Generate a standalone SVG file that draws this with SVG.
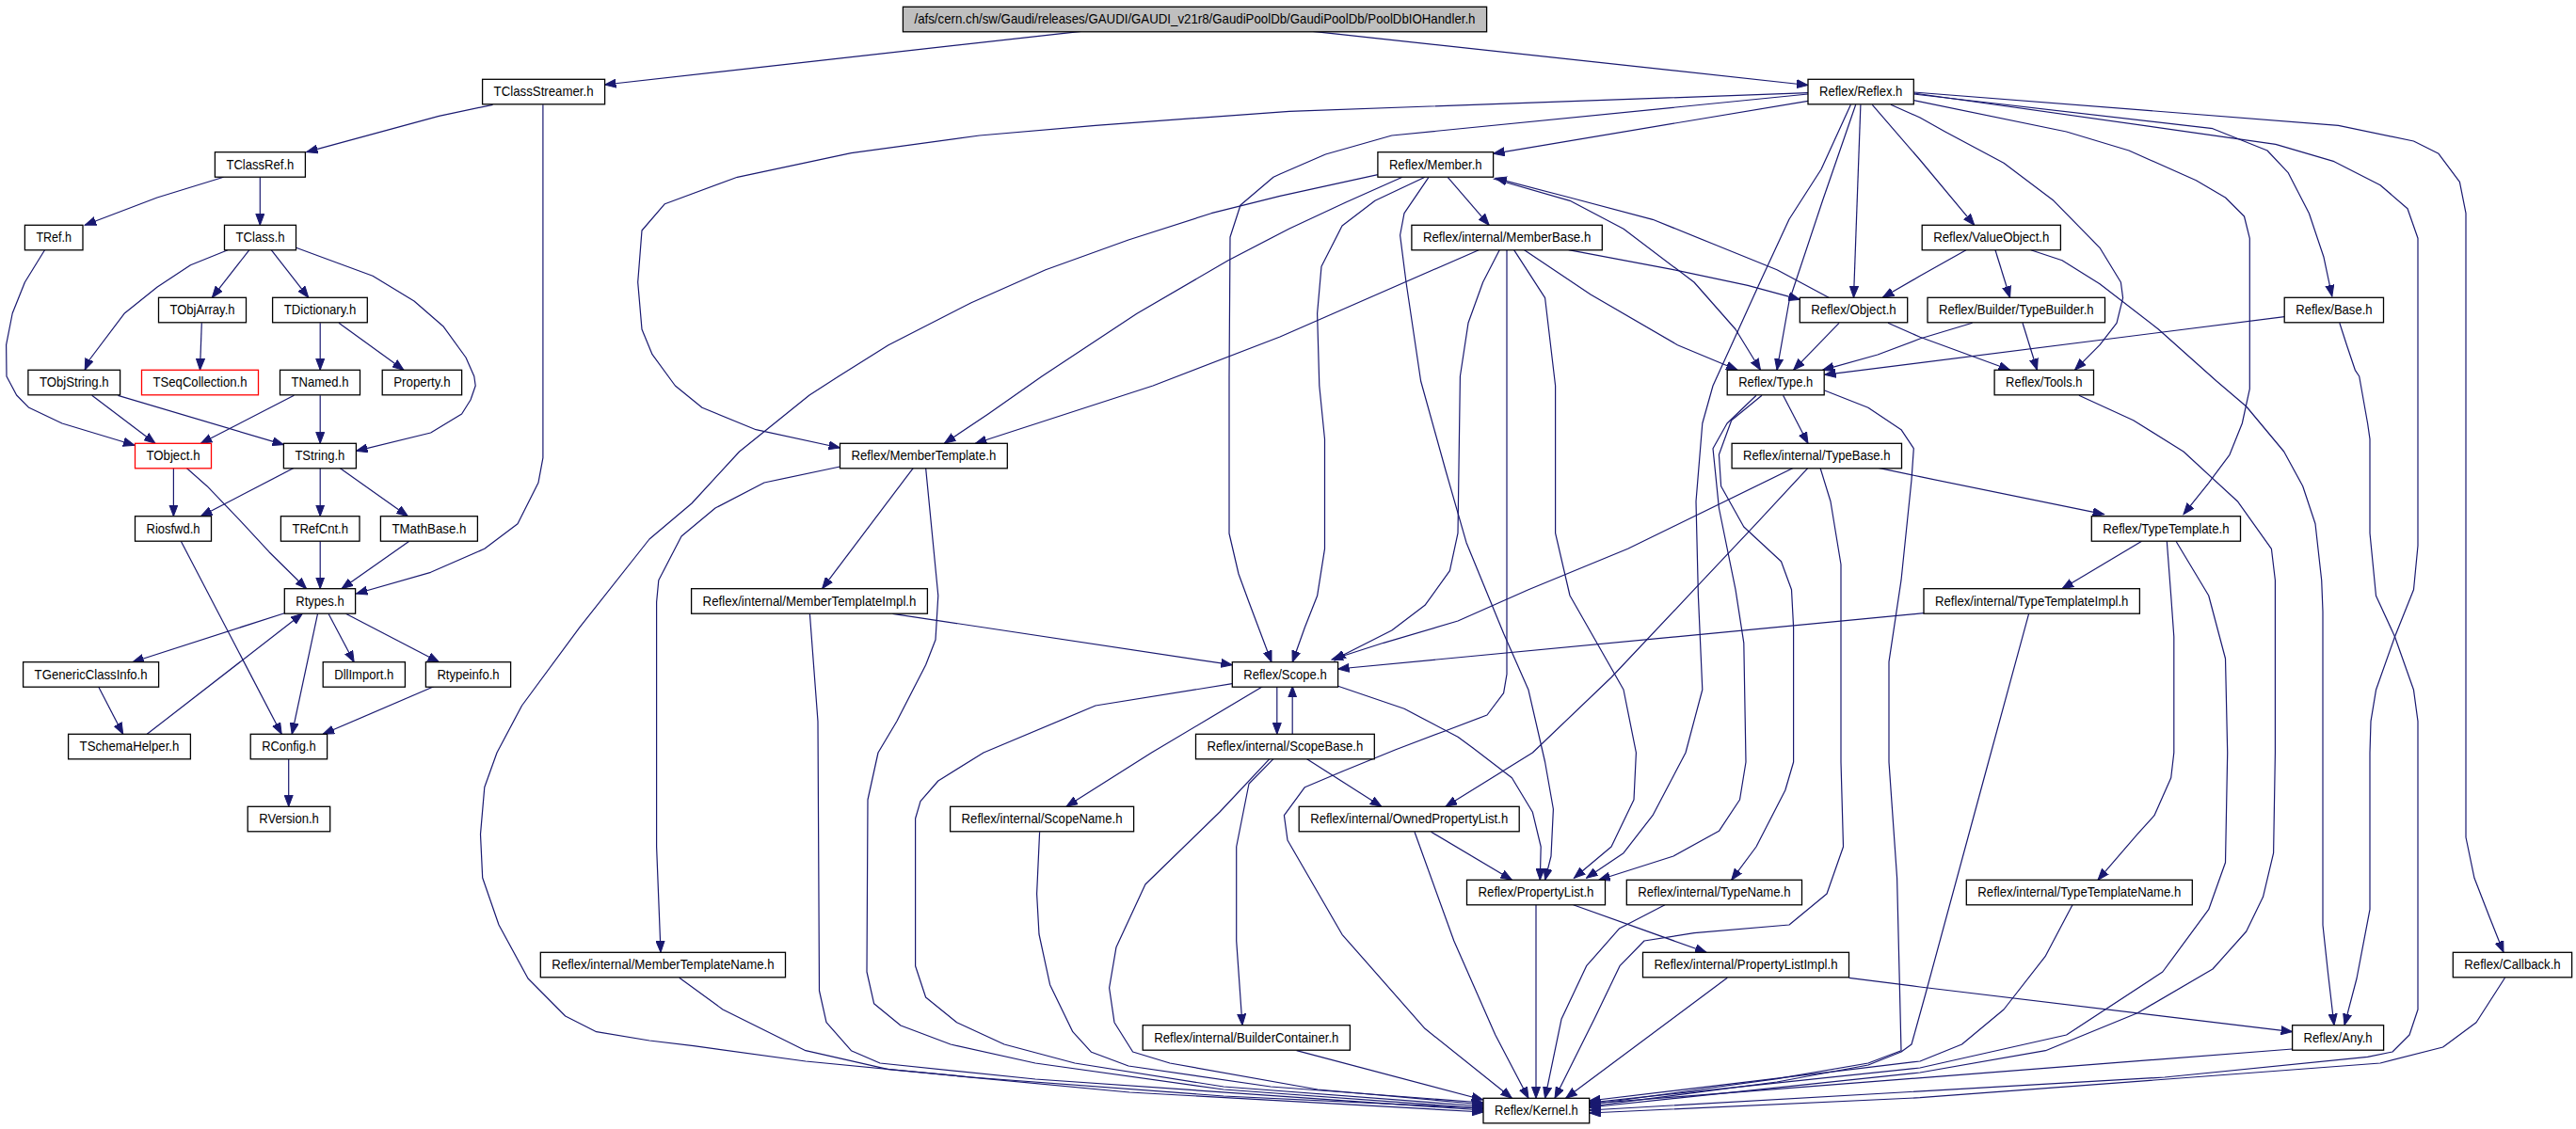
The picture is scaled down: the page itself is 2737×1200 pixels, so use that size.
<svg xmlns="http://www.w3.org/2000/svg" width="2737" height="1200" viewBox="0 0 2737 1200">
<style>
.n rect{fill:#fff;stroke:#000;stroke-width:1.3}
.r rect{stroke:#f00}
.root rect{fill:#bfbfbf}
.n text{font-family:"Liberation Sans",Arial,sans-serif;font-size:15px;fill:#000;text-anchor:middle}
.e path{fill:none;stroke:#191970;stroke-width:1.2;stroke-linejoin:round;marker-end:url(#a)}
</style>
<defs>
<marker id="a" markerWidth="13" markerHeight="10" refX="12" refY="5" orient="auto" markerUnits="userSpaceOnUse">
<path d="M0,0.5 L12,5 L0,9.5 z" fill="#191970" stroke="#191970" stroke-width="1"/>
</marker>
</defs>
<rect width="2737" height="1200" fill="#fff"/>
<g id="edges" class="e">
<path d="M1148.6,33.3 L642.5,90"/>
<path d="M1395,33.3 L1921,90.5"/>
<path d="M523.6,111.3 L466.4,123.3 L325.6,161.7"/>
<path d="M576.9,111.3 L576.9,486.7 L572,513 L550,556.7 L514.8,583.3 L457.6,608.3 L378.4,631"/>
<path d="M237.6,188.3 L167,210 L90.2,239.3"/>
<path d="M276.3,188.3 L276.3,239.3"/>
<path d="M47.5,265.7 L26.4,300 L13.2,333 L6.6,366.7 L7,400 L17.6,420 L30.8,433.3 L66,450 L143,473.3"/>
<path d="M242,265.7 L202.4,281.7 L167.2,305 L132,333.3 L94.6,383 L90.2,393.3"/>
<path d="M264.9,265.7 L225.3,316.3"/>
<path d="M288.2,265.7 L327.8,316.3"/>
<path d="M314.6,263.3 L360,280 L396,293.3 L440,320 L470.8,346.7 L495,380 L503.8,400 L505.2,410 L500,425 L490.6,440 L457.6,460 L378.4,479.3"/>
<path d="M214.3,343.3 L212.5,393.3"/>
<path d="M340.2,343.3 L340.2,393.3"/>
<path d="M360,343.3 L429,393.3"/>
<path d="M97.7,420.3 L165,471.3"/>
<path d="M125.4,420.3 L301.4,472.7"/>
<path d="M312.4,420.3 L213.4,471.3"/>
<path d="M340.2,420.3 L340.2,471.3"/>
<path d="M184.4,497.3 L184.4,548.7"/>
<path d="M198,497.3 L220,516.7 L255.2,553.3 L286,586.7 L325.6,625.7"/>
<path d="M312.4,497.3 L213.4,548.7"/>
<path d="M340.2,497.3 L340.2,548.7"/>
<path d="M360.8,497.3 L433.4,548.7"/>
<path d="M192.3,575.3 L299.2,780.3"/>
<path d="M340.2,575.3 L340.2,625.7"/>
<path d="M434.8,575.3 L363,625.7"/>
<path d="M302.3,651.7 L140.8,703.7"/>
<path d="M349,652.3 L376.2,703.7"/>
<path d="M367.4,652.3 L466.4,703.7"/>
<path d="M337.5,652.3 L310.2,780.3"/>
<path d="M104.3,729.3 L130.7,780.3"/>
<path d="M156.2,780.3 L321.2,652.3"/>
<path d="M462,729.3 L343.2,780.3"/>
<path d="M306.7,807 L306.7,857.3"/>
<path d="M1921,107.3 L1586.6,163.3"/>
<path d="M1921,98.7 L1370,118.3 L1164,133.3 L1040.8,144 L904.4,162.7 L783.4,188.3 L706.4,216.7 L682,245 L677.7,300 L682,350 L693,376.7 L717.4,410 L746,433.3 L803.2,456.7 L892.5,476"/>
<path d="M1921,100 L1478.8,144 L1408.4,164 L1360,185 L1353,188.3 L1318,218 L1307,252 L1306,400 L1306,567 L1316,610 L1327,640 L1351,703.7"/>
<path d="M1976.9,111.3 L1969.5,316.3"/>
<path d="M1971.7,111.3 L1936.5,213.3 L1901,320 L1888,393.3"/>
<path d="M1966.4,111.3 L1935,180 L1901,233 L1870,300 L1839.7,366.7 L1820,410 L1808.8,450 L1802,533 L1804.4,633 L1808.8,733 L1791,800 L1756,866.7 L1725,906.7 L1685.6,933.3"/>
<path d="M1989.3,111.3 L2040,170 L2097.8,239.3"/>
<path d="M2009,111.3 L2040,125 L2066.7,140 L2129,173.3 L2182,213.3 L2231,263.3 L2253.4,300 L2255.6,316.7 L2249,343.3 L2231,366.7 L2204.5,393.3"/>
<path d="M2033.3,106.7 L2195.6,140 L2262,160 L2333.4,191.7 L2364.5,210 L2384.5,230 L2390.3,253.3 L2390.3,413.3 L2382.3,450 L2369,483.3 L2346.7,513.3 L2320,546.7"/>
<path d="M2033.3,100 L2351,136.7 L2409,160 L2431,183.3 L2453.4,226.7 L2469,273.3 L2477.8,315"/>
<path d="M2033.3,99 L2417.8,153.3 L2480,171.7 L2529,196.7 L2558,221.7 L2569,253.3 L2569,580 L2564.5,626.7 L2544.5,676.7 L2524.5,733.3 L2519,766.7 L2518,800 L2518,966.7 L2504,1040 L2491,1089.7"/>
<path d="M2033.3,98 L2484.5,133.3 L2564.5,150 L2591,163.3 L2613.4,193.3 L2620,226.7 L2620,890 L2629,933.3 L2644.5,973.3 L2660,1012.3"/>
<path d="M1463.9,185.7 L1360,208.3 L1287,226.7 L1199,255 L1111,286.7 L1032,321.7 L944,366.7 L891,400 L860,420 L785.6,480 L735,535 L690,573 L616,666.7 L554.5,750 L528,800 L514.8,836.7 L510.5,886.7 L512.7,933 L530,983 L561,1040 L600.7,1080 L633.7,1096.7 L690,1106 L737,1111.7 L856,1128 L1032,1145 L1300,1165 L1576,1178"/>
<path d="M1490,188.3 L1430,215 L1370,243 L1305,276.7 L1208,333.3 L1107,400 L1050,440 L1003.4,471.3"/>
<path d="M1514,188.3 L1461,213.3 L1426,240 L1404,283.3 L1399.6,333.3 L1401.8,410 L1407.5,466.7 L1407.5,583.3 L1399.6,633.3 L1386.4,666.7 L1373.2,703.7"/>
<path d="M1538.2,188.3 L1582.2,239.3"/>
<path d="M1586.6,190 L1668,213.3 L1725,243.3 L1800,300 L1844,350 L1870.5,393.3"/>
<path d="M1518,188.3 L1492,226.7 L1487.6,250 L1494,300 L1509.6,405 L1536,500 L1558,576.7 L1597.6,673.3 L1624,733.3 L1641.6,810 L1650.4,860 L1648,910 L1641.6,935.3"/>
<path d="M1943,316.3 L1888,286.7 L1822,260 L1756,233.3 L1668,210 L1588.8,189.3"/>
<path d="M1954,343.3 L1905.6,393.3"/>
<path d="M2006,343.3 L2040,358.3 L2135.6,393.3"/>
<path d="M1571.2,265.7 L1360,358 L1225,410 L1036.4,471.3"/>
<path d="M1593.2,265.7 L1575.6,300 L1560,343.3 L1551.4,400 L1549,566.7 L1540.4,606.7 L1514,643.3 L1478.8,670 L1426,696.7 L1418,702"/>
<path d="M1601,265.7 L1601,716.7 L1597.6,736.7 L1580,760 L1536,776.7 L1483,796.7 L1426,820 L1386.4,836.7 L1364.4,866.7 L1368,893 L1426,993.3 L1514,1093.3 L1606.4,1167.3"/>
<path d="M1608.6,265.7 L1641.6,316.7 L1652.6,410 L1652.6,566.7 L1668,633 L1725,733 L1738.4,800 L1736,850 L1712,900 L1672.4,933.3"/>
<path d="M1619.6,265.7 L1690,313 L1782.4,366.7 L1846,393.3"/>
<path d="M1666.7,265.7 L1778,286.7 L1857,303.3 L1912.3,318.3"/>
<path d="M2089,265.7 L2040,293.3 L2000.3,316.3"/>
<path d="M2120,265.7 L2135.6,316.3"/>
<path d="M2157.8,265.7 L2191,276.7 L2231,301.7 L2293.4,350 L2355,405 L2386.7,432 L2426.7,480 L2446.7,516.7 L2460,556.7 L2466.7,616.7 L2468,650 L2468,983.3 L2473.4,1033.3 L2480,1089.7"/>
<path d="M2095.6,343.3 L2040,360 L1995,377 L1936.5,393.3"/>
<path d="M2149,343.3 L2164.5,393.3"/>
<path d="M2427.2,336.7 L1938.6,398.3"/>
<path d="M2485.8,343.3 L2493.4,366.7 L2502.3,393.3 L2506.7,400 L2515.6,450 L2518,466.7 L2518,566.7 L2524.5,633.3 L2544.5,676.7 L2564.5,733.3 L2569,766.7 L2569,1073 L2560,1100 L2542,1118 L2515.6,1123.3 L2300,1145 L1688.7,1180"/>
<path d="M1894.6,420.3 L1921,471.3"/>
<path d="M1866,420.3 L1835,450 L1820,476.7 L1826.4,540 L1844,626.7 L1852.8,683.3 L1855,810 L1848.5,850 L1826.4,883.3 L1778,910 L1698.8,935.3"/>
<path d="M1872,420.3 L1839.7,446.7 L1826.4,483.3 L1828.6,516.7 L1852.8,560 L1892.5,596.7 L1903.5,626.7 L1905.6,666.7 L1905.6,810 L1896.8,840 L1866,900 L1839.7,935.3"/>
<path d="M1938.6,415 L1984.9,433.3 L2020,456.7 L2033.3,476.7 L2031,510 L2020,616.7 L2007,703.3 L2007,810 L2015.6,933.3 L2020,1116.7 L1985,1130 L1888,1146.7 L1688.7,1174"/>
<path d="M1905.6,497.3 L1729.6,583.3 L1624,626.7 L1549,660 L1470,683.3 L1415,701"/>
<path d="M1921,497.3 L1866,556.7 L1800,626.7 L1712,720 L1628.4,800 L1580,830 L1536,857.3"/>
<path d="M1934,497.3 L1945,533 L1956,600 L1956,810 L1958.5,900 L1941,950 L1901,983 L1800,991.7 L1747,1000 L1721,1026.7 L1694,1083 L1652,1167.3"/>
<path d="M1996,497.3 L2040,506.7 L2235.6,546.7"/>
<path d="M2208.9,420.3 L2266.7,446.7 L2320,480 L2377.8,533.3 L2413.4,583.3 L2417.4,616.7 L2417.4,800 L2415.6,906.7 L2404.5,953.3 L2386.7,990 L2351,1030 L2271,1076.7 L2173.4,1116.7 L2040,1140 L1688.7,1177"/>
<path d="M2302.3,575.3 L2306.7,633.3 L2309.8,676.7 L2309.8,800 L2306.7,826.7 L2289,866.7 L2271,886.7 L2229,935.3"/>
<path d="M2312,575.3 L2346.7,633 L2364.5,700 L2366.7,800 L2364.5,916.7 L2346.7,966.7 L2297.8,1033 L2195.6,1100 L2040,1135 L1688.7,1172"/>
<path d="M2275.6,575.3 L2191,625.7"/>
<path d="M2044.3,651.7 L1421.6,711"/>
<path d="M2155.6,652.3 L2112.7,810 L2046,1056 L2031,1110 L2020,1118 L1985,1132 L1888,1150 L1688.7,1176"/>
<path d="M1356.8,729.3 L1356.8,780.3"/>
<path d="M1373.2,780.3 L1373.2,729.3"/>
<path d="M1309.3,726.7 L1164,750 L1045,800 L996.8,830 L978,851.7 L972.6,870 L972.6,1026.7 L983.6,1060 L1016.6,1086.7 L1067,1110 L1142,1130 L1300,1155 L1576,1176"/>
<path d="M1342.3,729.3 L1223.5,800 L1133,857.3"/>
<path d="M1421.6,729.3 L1492,753.3 L1549,783.3 L1565,795 L1606.4,826.7 L1628.4,863.3 L1637.2,900 L1636.3,935.3"/>
<path d="M1388.6,806.7 L1467.8,857.3"/>
<path d="M1353,806.7 L1327,833 L1313.7,900 L1313.7,1000 L1320,1089.7"/>
<path d="M1348.9,806.7 L1296,863 L1216.9,940 L1186,1006.7 L1178.6,1050 L1184,1086.7 L1203.6,1118 L1243,1130 L1400,1158 L1576,1174"/>
<path d="M970.4,497.3 L873.6,625.7"/>
<path d="M983.6,497.3 L996.8,633 L994,680 L983.6,706.7 L952.8,766.7 L933,800 L922,850 L921,1033 L928.6,1066.7 L957,1090 L1010,1110 L1100,1130 L1300,1158 L1576,1178"/>
<path d="M892.5,496 L812,513 L760,540 L724,570 L699.8,616.7 L697.6,640 L697.6,900 L702,1012.3"/>
<path d="M948.4,652.3 L1309.3,706.7"/>
<path d="M860.4,652.3 L869,766.7 L870.5,1053 L878,1086.7 L904.4,1116.7 L935,1130 L1100,1147 L1576,1180"/>
<path d="M721.8,1039.3 L768,1073 L856,1116.7 L944,1136.7 L1200,1161 L1576,1182"/>
<path d="M1104.6,884.3 L1101.6,950 L1104,993 L1115.6,1046.7 L1139.8,1096.7 L1159.6,1118.3 L1199,1133 L1350,1155 L1576,1172"/>
<path d="M1377.6,1116.7 L1575.6,1169"/>
<path d="M1520.6,884.3 L1606.4,935.3"/>
<path d="M1503,884.3 L1544.8,1000 L1588.8,1100 L1624,1167.3"/>
<path d="M1632,961.7 L1632,1167.3"/>
<path d="M1671.6,961.7 L1813,1012.3"/>
<path d="M1769,961.7 L1720.8,986.7 L1685.6,1026.7 L1659,1083.3 L1641.6,1167.3"/>
<path d="M1835.3,1039.3 L1663.6,1167.3"/>
<path d="M1964.6,1039.3 L2040,1049 L2435.6,1096.7"/>
<path d="M2435.6,1115 L1688.7,1173"/>
<path d="M2661.5,1039.3 L2631,1086.7 L2595.6,1113 L2529,1130 L2040,1166.7 L1688.7,1183"/>
<path d="M2202,961.7 L2173,1016.7 L2129,1073 L2084.5,1110 L2040,1128 L1688.7,1170"/>
</g>
<g id="root" class="n root"><rect x="959.4" y="7.3" width="620.2" height="26.5"/><text x="1269.5" y="25.3" textLength="596" lengthAdjust="spacingAndGlyphs">/afs/cern.ch/sw/Gaudi/releases/GAUDI/GAUDI_v21r8/GaudiPoolDb/GaudiPoolDb/PoolDbIOHandler.h</text></g>
<g id="TClassStreamer" class="n"><rect x="512.6" y="84.3" width="130" height="26.5"/><text x="577.6" y="102.3" textLength="106" lengthAdjust="spacingAndGlyphs">TClassStreamer.h</text></g>
<g id="TClassRef" class="n"><rect x="228.4" y="161.7" width="96" height="26.5"/><text x="276.4" y="179.7" textLength="72" lengthAdjust="spacingAndGlyphs">TClassRef.h</text></g>
<g id="TRef" class="n"><rect x="26.4" y="239.3" width="61.6" height="26.5"/><text x="57.2" y="257.3" textLength="37.6" lengthAdjust="spacingAndGlyphs">TRef.h</text></g>
<g id="TClass" class="n"><rect x="238.5" y="239.3" width="76" height="26.5"/><text x="276.5" y="257.3" textLength="52" lengthAdjust="spacingAndGlyphs">TClass.h</text></g>
<g id="TObjArray" class="n"><rect x="168.5" y="316.3" width="93" height="26.5"/><text x="215" y="334.3" textLength="69" lengthAdjust="spacingAndGlyphs">TObjArray.h</text></g>
<g id="TDictionary" class="n"><rect x="289.6" y="316.3" width="100.7" height="26.5"/><text x="340" y="334.3" textLength="76.7" lengthAdjust="spacingAndGlyphs">TDictionary.h</text></g>
<g id="TObjString" class="n"><rect x="29.9" y="393.3" width="97.7" height="26.5"/><text x="78.8" y="411.3" textLength="73.7" lengthAdjust="spacingAndGlyphs">TObjString.h</text></g>
<g id="TSeqCollection" class="n r"><rect x="150.5" y="393.3" width="124" height="26.5"/><text x="212.5" y="411.3" textLength="100" lengthAdjust="spacingAndGlyphs">TSeqCollection.h</text></g>
<g id="TNamed" class="n"><rect x="297.5" y="393.3" width="85" height="26.5"/><text x="340" y="411.3" textLength="61" lengthAdjust="spacingAndGlyphs">TNamed.h</text></g>
<g id="Property" class="n"><rect x="406.2" y="393.3" width="84.4" height="26.5"/><text x="448.4" y="411.3" textLength="60.4" lengthAdjust="spacingAndGlyphs">Property.h</text></g>
<g id="TObject" class="n r"><rect x="143.5" y="471.3" width="81" height="26.5"/><text x="184" y="489.3" textLength="57" lengthAdjust="spacingAndGlyphs">TObject.h</text></g>
<g id="TString" class="n"><rect x="301.4" y="471.3" width="77" height="26.5"/><text x="339.9" y="489.3" textLength="53" lengthAdjust="spacingAndGlyphs">TString.h</text></g>
<g id="Riosfwd" class="n"><rect x="143.5" y="548.7" width="81" height="26.5"/><text x="184" y="566.7" textLength="57" lengthAdjust="spacingAndGlyphs">Riosfwd.h</text></g>
<g id="TRefCnt" class="n"><rect x="298.4" y="548.7" width="83.6" height="26.5"/><text x="340.2" y="566.7" textLength="59.6" lengthAdjust="spacingAndGlyphs">TRefCnt.h</text></g>
<g id="TMathBase" class="n"><rect x="404.4" y="548.7" width="103" height="26.5"/><text x="455.9" y="566.7" textLength="79" lengthAdjust="spacingAndGlyphs">TMathBase.h</text></g>
<g id="Rtypes" class="n"><rect x="302.3" y="625.7" width="75.3" height="26.5"/><text x="340" y="643.7" textLength="51.3" lengthAdjust="spacingAndGlyphs">Rtypes.h</text></g>
<g id="TGenericClassInfo" class="n"><rect x="24.6" y="703.7" width="144" height="26.5"/><text x="96.6" y="721.7" textLength="120" lengthAdjust="spacingAndGlyphs">TGenericClassInfo.h</text></g>
<g id="DllImport" class="n"><rect x="343.2" y="703.7" width="87.2" height="26.5"/><text x="386.8" y="721.7" textLength="63.2" lengthAdjust="spacingAndGlyphs">DllImport.h</text></g>
<g id="Rtypeinfo" class="n"><rect x="452.4" y="703.7" width="90.2" height="26.5"/><text x="497.5" y="721.7" textLength="66.2" lengthAdjust="spacingAndGlyphs">Rtypeinfo.h</text></g>
<g id="TSchemaHelper" class="n"><rect x="72.6" y="780.3" width="129.8" height="26.5"/><text x="137.5" y="798.3" textLength="105.8" lengthAdjust="spacingAndGlyphs">TSchemaHelper.h</text></g>
<g id="RConfig" class="n"><rect x="266.2" y="780.3" width="81.4" height="26.5"/><text x="306.9" y="798.3" textLength="57.4" lengthAdjust="spacingAndGlyphs">RConfig.h</text></g>
<g id="RVersion" class="n"><rect x="263.2" y="857.3" width="87.5" height="26.5"/><text x="307" y="875.3" textLength="63.5" lengthAdjust="spacingAndGlyphs">RVersion.h</text></g>
<g id="Reflex" class="n"><rect x="1921" y="84.3" width="112.3" height="26.5"/><text x="1977.2" y="102.3" textLength="88.3" lengthAdjust="spacingAndGlyphs">Reflex/Reflex.h</text></g>
<g id="Member" class="n"><rect x="1463.9" y="161.7" width="122.7" height="26.5"/><text x="1525.3" y="179.7" textLength="98.7" lengthAdjust="spacingAndGlyphs">Reflex/Member.h</text></g>
<g id="MemberBase" class="n"><rect x="1499.9" y="239.3" width="202.4" height="26.5"/><text x="1601.1" y="257.3" textLength="178.4" lengthAdjust="spacingAndGlyphs">Reflex/internal/MemberBase.h</text></g>
<g id="ValueObject" class="n"><rect x="2042.2" y="239.3" width="147.2" height="26.5"/><text x="2115.8" y="257.3" textLength="123.2" lengthAdjust="spacingAndGlyphs">Reflex/ValueObject.h</text></g>
<g id="Object" class="n"><rect x="1912.3" y="316.3" width="114.4" height="26.5"/><text x="1969.5" y="334.3" textLength="90.4" lengthAdjust="spacingAndGlyphs">Reflex/Object.h</text></g>
<g id="TypeBuilder" class="n"><rect x="2048" y="316.3" width="188.5" height="26.5"/><text x="2142.3" y="334.3" textLength="164.5" lengthAdjust="spacingAndGlyphs">Reflex/Builder/TypeBuilder.h</text></g>
<g id="Base" class="n"><rect x="2427.2" y="316.3" width="105.3" height="26.5"/><text x="2479.9" y="334.3" textLength="81.3" lengthAdjust="spacingAndGlyphs">Reflex/Base.h</text></g>
<g id="Type" class="n"><rect x="1835.2" y="393.3" width="103" height="26.5"/><text x="1886.7" y="411.3" textLength="79" lengthAdjust="spacingAndGlyphs">Reflex/Type.h</text></g>
<g id="Tools" class="n"><rect x="2119.1" y="393.3" width="105.4" height="26.5"/><text x="2171.8" y="411.3" textLength="81.4" lengthAdjust="spacingAndGlyphs">Reflex/Tools.h</text></g>
<g id="MemberTemplate" class="n"><rect x="892.5" y="471.3" width="177.8" height="26.5"/><text x="981.4" y="489.3" textLength="153.8" lengthAdjust="spacingAndGlyphs">Reflex/MemberTemplate.h</text></g>
<g id="TypeBase" class="n"><rect x="1840.1" y="471.3" width="180.4" height="26.5"/><text x="1930.3" y="489.3" textLength="156.4" lengthAdjust="spacingAndGlyphs">Reflex/internal/TypeBase.h</text></g>
<g id="TypeTemplate" class="n"><rect x="2222.3" y="548.7" width="158.2" height="26.5"/><text x="2301.4" y="566.7" textLength="134.2" lengthAdjust="spacingAndGlyphs">Reflex/TypeTemplate.h</text></g>
<g id="MemberTemplateImpl" class="n"><rect x="734.6" y="625.7" width="250.8" height="26.5"/><text x="860" y="643.7" textLength="226.8" lengthAdjust="spacingAndGlyphs">Reflex/internal/MemberTemplateImpl.h</text></g>
<g id="TypeTemplateImpl" class="n"><rect x="2044" y="625.7" width="229.4" height="26.5"/><text x="2158.7" y="643.7" textLength="205.4" lengthAdjust="spacingAndGlyphs">Reflex/internal/TypeTemplateImpl.h</text></g>
<g id="Scope" class="n"><rect x="1309.3" y="703.7" width="112.3" height="26.5"/><text x="1365.5" y="721.7" textLength="88.3" lengthAdjust="spacingAndGlyphs">Reflex/Scope.h</text></g>
<g id="ScopeBase" class="n"><rect x="1270.5" y="780.3" width="189.8" height="26.5"/><text x="1365.4" y="798.3" textLength="165.8" lengthAdjust="spacingAndGlyphs">Reflex/internal/ScopeBase.h</text></g>
<g id="ScopeName" class="n"><rect x="1009.6" y="857.3" width="195" height="26.5"/><text x="1107.1" y="875.3" textLength="171" lengthAdjust="spacingAndGlyphs">Reflex/internal/ScopeName.h</text></g>
<g id="OwnedPropertyList" class="n"><rect x="1380.2" y="857.3" width="234" height="26.5"/><text x="1497.2" y="875.3" textLength="210" lengthAdjust="spacingAndGlyphs">Reflex/internal/OwnedPropertyList.h</text></g>
<g id="PropertyList" class="n"><rect x="1558.5" y="935.3" width="147" height="26.5"/><text x="1632" y="953.3" textLength="123" lengthAdjust="spacingAndGlyphs">Reflex/PropertyList.h</text></g>
<g id="TypeName" class="n"><rect x="1728.3" y="935.3" width="186.2" height="26.5"/><text x="1821.4" y="953.3" textLength="162.2" lengthAdjust="spacingAndGlyphs">Reflex/internal/TypeName.h</text></g>
<g id="TypeTemplateName" class="n"><rect x="2089.3" y="935.3" width="240" height="26.5"/><text x="2209.3" y="953.3" textLength="216" lengthAdjust="spacingAndGlyphs">Reflex/internal/TypeTemplateName.h</text></g>
<g id="MemberTemplateName" class="n"><rect x="574.3" y="1012.3" width="260.2" height="26.5"/><text x="704.4" y="1030.3" textLength="236.2" lengthAdjust="spacingAndGlyphs">Reflex/internal/MemberTemplateName.h</text></g>
<g id="PropertyListImpl" class="n"><rect x="1745.5" y="1012.3" width="219" height="26.5"/><text x="1855" y="1030.3" textLength="195" lengthAdjust="spacingAndGlyphs">Reflex/internal/PropertyListImpl.h</text></g>
<g id="Callback" class="n"><rect x="2606.3" y="1012.3" width="126.3" height="26.5"/><text x="2669.5" y="1030.3" textLength="102.3" lengthAdjust="spacingAndGlyphs">Reflex/Callback.h</text></g>
<g id="BuilderContainer" class="n"><rect x="1214.2" y="1089.7" width="220.2" height="26.5"/><text x="1324.3" y="1107.7" textLength="196.2" lengthAdjust="spacingAndGlyphs">Reflex/internal/BuilderContainer.h</text></g>
<g id="Any" class="n"><rect x="2435.6" y="1089.7" width="97" height="26.5"/><text x="2484.1" y="1107.7" textLength="73" lengthAdjust="spacingAndGlyphs">Reflex/Any.h</text></g>
<g id="Kernel" class="n"><rect x="1576" y="1167.3" width="112.7" height="26.5"/><text x="1632.4" y="1185.3" textLength="88.7" lengthAdjust="spacingAndGlyphs">Reflex/Kernel.h</text></g>
</svg>
